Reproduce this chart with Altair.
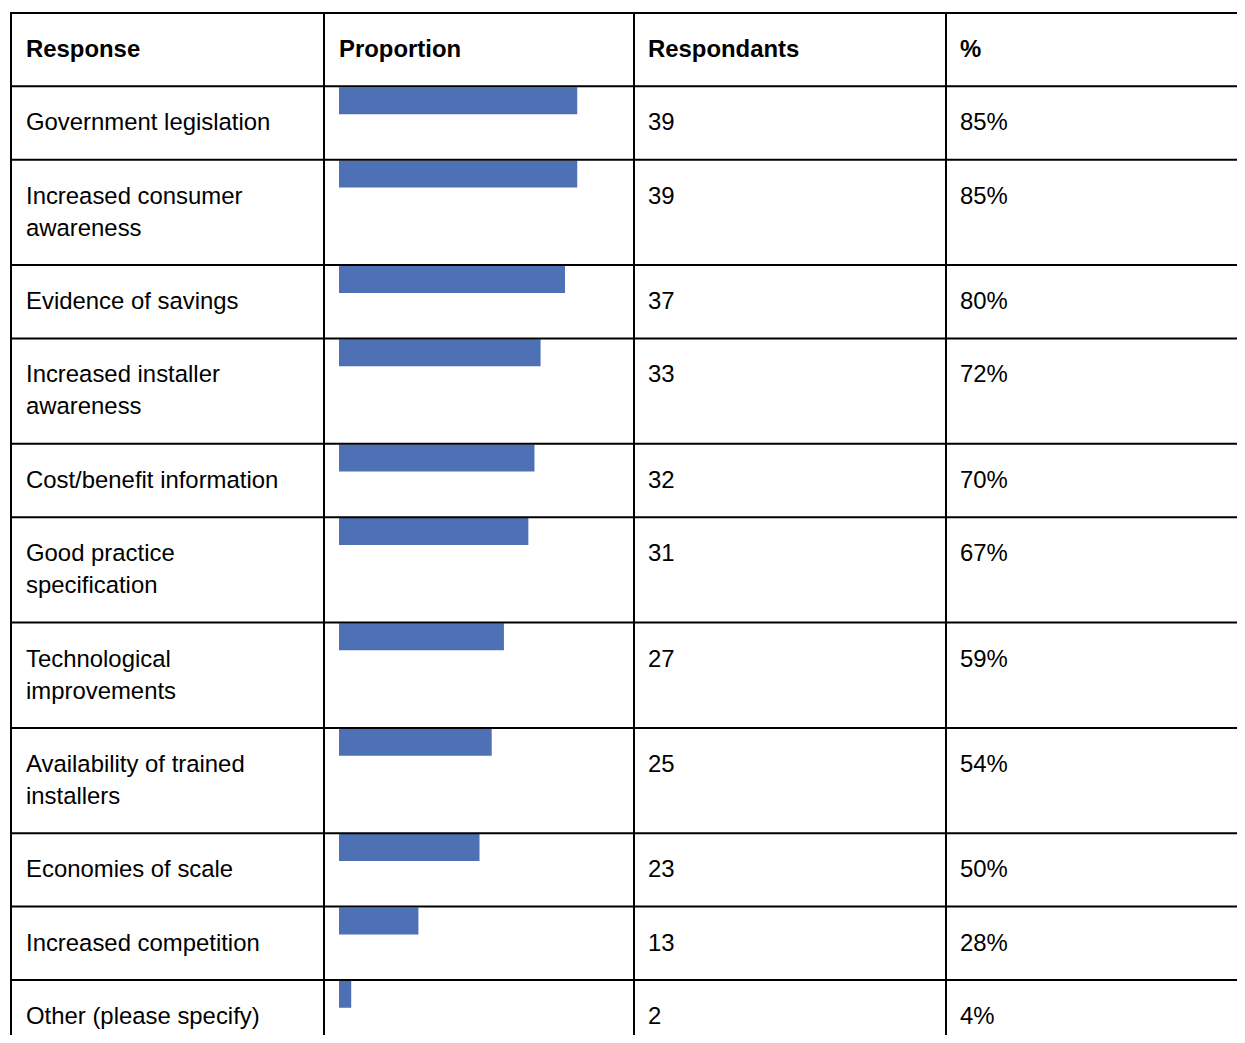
import altair as alt
import pandas as pd

# ---------------- data ----------------
headers = ["Response", "Proportion", "Respondants", "%"]
responses = [
    "Government legislation",
    "Increased consumer\nawareness",
    "Evidence of savings",
    "Increased installer\nawareness",
    "Cost/benefit information",
    "Good practice\nspecification",
    "Technological\nimprovements",
    "Availability of trained\ninstallers",
    "Economies of scale",
    "Increased competition",
    "Other (please specify)",
]
respondents = [39, 39, 37, 33, 32, 31, 27, 25, 23, 13, 2]
percent_labels = ["85%", "85%", "80%", "72%", "70%", "67%", "59%", "54%", "50%", "28%", "4%"]
total_respondents = 46

# ---------------- layout (pixels, page coordinates) ----------------
W, H = 1229, 1027          # svg size
OFF = 8                    # page margin
XS = alt.Scale(domain=[OFF, OFF + W], range=[0, W])
YS = alt.Scale(domain=[OFF, OFF + H], range=[0, H])
BAR_SCALE = alt.Scale(domain=[0, total_respondents], range=[339 - OFF, 339 - OFF + 281])

FONT = "Liberation Sans"
FS = 23.9
TABLE_TOP = 13
ONE_LINE = 73.36
LINE_H = 32
BASE_OFF = 44
col_lines_x = [11, 324, 634, 946]
text_x = [26, 339, 648, 960]
BAR_COLOR = "#4E71B6"

tops = []
y = TABLE_TOP + ONE_LINE
for r in responses:
    tops.append(y)
    y += ONE_LINE + LINE_H * r.count("\n")
row_lines = [TABLE_TOP] + tops

df = pd.DataFrame({
    "response": responses,
    "respondents": respondents,
    "pct": percent_labels,
    "base": [t + BASE_OFF for t in tops],
    "bar_top": [t + 0.8 for t in tops],
    "bar_bot": [t + 27.8 for t in tops],
    "zero": [0] * len(responses),
})
hdr = pd.DataFrame({"label": headers, "x": text_x, "base": [TABLE_TOP + BASE_OFF] * 4})
hl = pd.DataFrame({"y": row_lines})
vl = pd.DataFrame({"x": col_lines_x})

bars = alt.Chart(df).mark_rect(color=BAR_COLOR).encode(
    x=alt.X("zero:Q", scale=BAR_SCALE, axis=None),
    x2="respondents:Q",
    y=alt.Y("bar_top:Q", scale=YS, axis=None),
    y2="bar_bot:Q",
)

hrules = alt.Chart(hl).mark_rule(color="black", strokeWidth=2).encode(
    y=alt.Y("y:Q", scale=YS, axis=None),
    x=alt.value(10 - OFF),
    x2=alt.value(W + 20),
)
vrules = alt.Chart(vl).mark_rule(color="black", strokeWidth=2).encode(
    x=alt.X("x:Q", scale=XS, axis=None),
    y=alt.value(TABLE_TOP - OFF - 1),
    y2=alt.value(H + 20),
)

text_props = dict(font=FONT, fontSize=FS, align="left", baseline="alphabetic", color="black")

header_text = alt.Chart(hdr).mark_text(fontWeight="bold", **text_props).encode(
    x=alt.X("x:Q", scale=XS, axis=None),
    y=alt.Y("base:Q", scale=YS, axis=None),
    text="label:N",
)
resp_text = alt.Chart(df).mark_text(lineBreak="\n", lineHeight=LINE_H, **text_props).encode(
    x=alt.value(text_x[0] - OFF),
    y=alt.Y("base:Q", scale=YS, axis=None),
    text="response:N",
)
num_text = alt.Chart(df).mark_text(**text_props).encode(
    x=alt.value(text_x[2] - OFF),
    y=alt.Y("base:Q", scale=YS, axis=None),
    text="respondents:N",
)
pct_text = alt.Chart(df).mark_text(**text_props).encode(
    x=alt.value(text_x[3] - OFF),
    y=alt.Y("base:Q", scale=YS, axis=None),
    text="pct:N",
)

chart = alt.layer(
    bars, hrules, vrules, header_text, resp_text, num_text, pct_text
).resolve_scale(x="independent").properties(
    width=W, height=H, padding=0,
    autosize=alt.AutoSizeParams(type="none"),
    background="white",
).configure_view(strokeWidth=0)

chart.save("out.html", embed_options={"renderer": "svg", "actions": False})
